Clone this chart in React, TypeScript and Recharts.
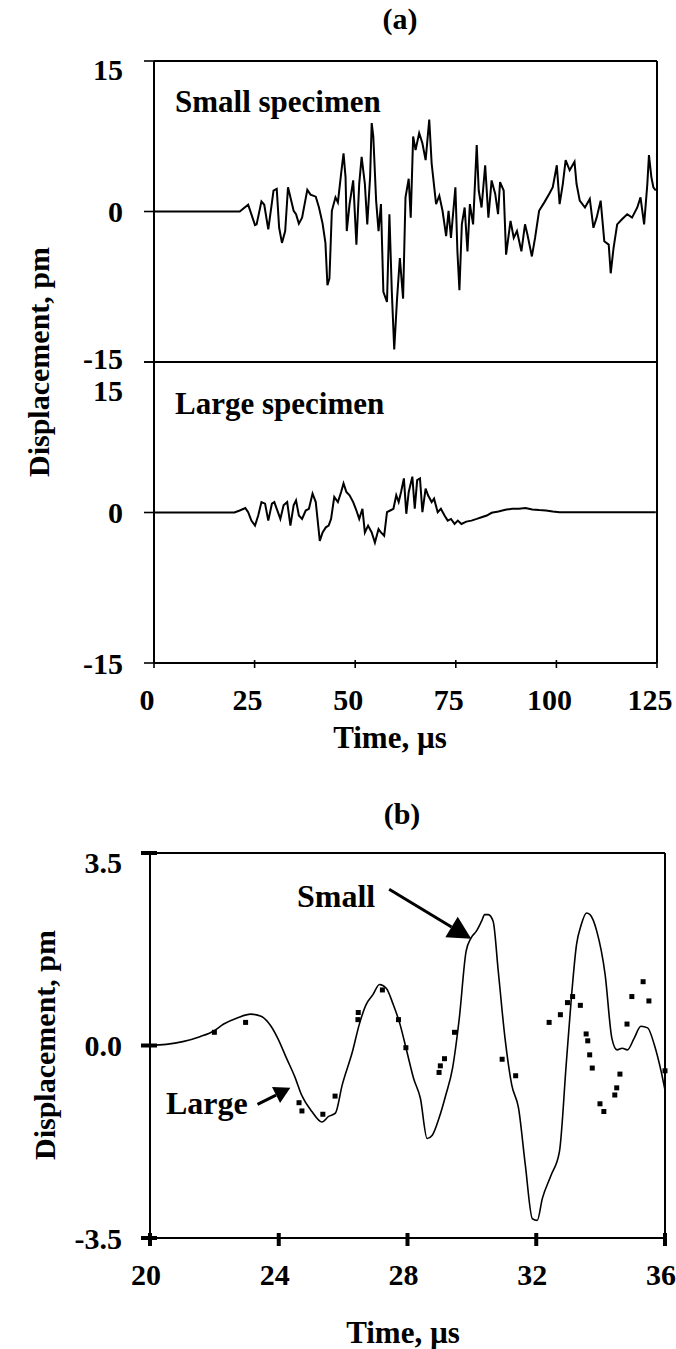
import React from "react"
import {
  LineChart,
  ComposedChart,
  Line,
  Scatter,
  XAxis,
  YAxis,
  ReferenceLine,
} from "recharts"

// ---- panel (a): full records, time in µs, displacement in pm ----
const smallTimeA = [
  0, 21.3, 23.4, 25.1, 25.5, 26.7, 27.4, 28.4, 28.8, 29.7, 30.5, 31.1, 31.8, 32.6, 33.3, 33.9,
  34.7, 35.3, 36.0, 36.8, 38.1, 38.9, 40.2, 41.0, 41.9, 42.6, 43.1, 43.6, 44.2, 45.1, 45.7, 46.5,
  47.1, 47.6, 47.9, 48.6, 49.5, 50.3, 51.0, 51.6, 52.4, 53.0, 53.7, 54.1, 54.5, 55.2, 55.8, 56.4,
  57.0, 57.9, 58.5, 59.1, 59.7, 60.4, 61.1, 61.9, 62.5, 63.3, 63.8, 64.4, 65.0, 65.9, 66.7, 67.5,
  68.4, 69.0, 70.1, 70.9, 71.7, 72.6, 73.2, 73.8, 74.9, 75.4, 75.9, 76.5, 77.2, 77.9, 78.5, 79.3,
  80.2, 80.7, 81.4, 82.3, 83.1, 83.9, 84.8, 85.5, 86.0, 86.9, 87.5, 88.6, 89.4, 90.2, 91.3, 92.2,
  92.8, 93.9, 94.7, 95.7, 97.0, 98.2, 99.1, 100.1, 100.8, 101.6, 102.3, 103.3, 104.5, 105.0, 105.8,
  107.1, 108.3, 109.2, 110.0, 111.0, 111.9, 113.0, 113.5, 114.2, 115.1, 116.3, 117.6, 118.8, 120.1,
  120.9, 121.8, 122.6, 123.0, 123.6, 124.1, 124.7,
]
const smallDispA = [
  0, 0, 0.67, -1.35, -1.28, 1.01, 0.67, -1.78, -0.61, 2.09, 2.26, -1.62, -3.13, -1.95, 2.42, 1.41,
  0.07, -0.27, -1.21, -0.61, 2.15, 1.68, 1.48, 0.4, -1.21, -3.13, -7.34, -6.67, 0.07, 1.41, 0.91, 3.77,
  5.79, 3.43, -1.95, 0.74, 3.1, -3.3, 2.76, 5.45, 2.76, -1.28, 3.43, 8.82, 7.47, 1.08, -1.95, 0.74,
  -8.01, -9.02, -0.27, -8.01, -13.74, -8.69, -4.65, -8.69, 1.41, 3.27, -0.61, 7.47, 6.13, 7.81, 6.8, 5.12,
  9.16, 4.78, 0.74, 1.58, 0.07, -2.46, 0.07, -2.63, 2.42, -3.97, -7.85, -1.28, 0.4, -3.97, 0.74, -1.28,
  6.63, 2.09, 0.4, 4.61, -0.61, 3.1, 1.75, -0.27, 2.93, 2.09, -4.31, -0.94, -2.63, -1.95, -3.97, -1.28,
  -2.29, -4.48, -2.63, 0.07, 0.91, 1.75, 2.42, 4.61, 0.74, 2.76, 5.12, 4.11, 4.95, 2.76, 1.08,
  0.4, 1.25, -1.62, -0.61, 1.08, -2.96, -3.3, -6.16, -3.64, -1.28, -0.77, -0.27, -0.61, 0.4,
  1.41, -1.28, 2.76, 5.62, 3.43, 2.42, 2.09,
]
const largeTimeA = [
  0, 20.0, 21.3, 22.7, 23.4, 24.2, 25.1, 25.9, 26.7, 27.6, 28.4, 29.3, 29.9, 30.8, 31.4, 32.2,
  33.1, 33.9, 34.7, 35.3, 36.0, 36.8, 37.7, 38.5, 39.4, 40.2, 40.9, 41.2, 41.9, 42.7, 43.4, 44.0,
  44.8, 45.7, 46.5, 47.1, 47.8, 48.6, 49.5, 50.3, 51.0, 51.8, 52.4, 53.2, 54.1, 54.9, 55.8, 56.4,
  57.2, 57.9, 58.7, 59.5, 60.2, 60.8, 61.4, 62.1, 62.7, 63.3, 64.2, 64.8, 65.4, 66.1, 66.7, 67.5,
  68.1, 69.0, 69.6, 70.5, 71.3, 72.2, 73.0, 73.8, 74.7, 75.5, 76.4, 77.6, 78.9, 80.2, 81.4, 82.7,
  83.9, 85.6, 87.3, 89.0, 90.7, 92.3, 94.0, 95.7, 97.4, 99.1, 100.8, 105.8, 114.2, 124.7,
]
const largeDispA = [
  0, 0, 0.2, 0.44, 0.03, -0.81, -1.31, -0.3, 1.04, 0.88, -0.81, 0.88, 1.04, 0.03, -0.64, 0.71,
  1.04, -1.31, 0.71, 1.21, -0.3, -0.64, 0.2, 0.37, 1.89, 1.04, -1.65, -2.83, -1.99, -1.48, -1.31, -0.64,
  1.55, 1.04, 2.05, 2.9, 2.05, 1.72, 1.04, 0.2, -0.64, 0.37, -1.99, -1.31, -1.99, -3.0, -1.65, -1.99,
  -2.32, 0.03, 0.2, 0.37, 1.72, 1.04, 2.05, 3.4, -0.13, 2.05, 3.57, 0.37, 3.23, 3.4, 0.03, 2.39,
  1.72, 1.04, 1.38, 0.03, 0.37, -0.3, -0.81, -0.64, -1.14, -0.81, -1.14, -0.91, -0.81, -0.64, -0.47, -0.3,
  -0.03, 0.1, 0.27, 0.37, 0.37, 0.44, 0.3, 0.24, 0.2, 0.1, 0.03, 0.03, 0.03, 0.03,
]
const timeTicksA = [0, 25, 50, 75, 100, 125]
const dispTicksA = [-15, 0, 15]

// ---- panel (b): first 16 µs, small = line, large = squares ----
const smallTimeB = [
  20.0, 20.5, 21.02, 21.55, 21.97, 22.29, 22.71, 23.13, 23.45, 23.76, 23.97, 24.24, 24.5, 24.71,
  25.03, 25.34, 25.55, 25.76, 25.97, 26.29, 26.5, 26.71, 26.92, 27.13, 27.34, 27.56, 27.77, 27.98,
  28.19, 28.4, 28.61, 28.77, 28.98, 29.19, 29.4, 29.61, 29.82, 29.98, 30.14, 30.3, 30.4, 30.51,
  30.66, 30.82, 31.03, 31.24, 31.45, 31.66, 31.88, 32.03, 32.19, 32.46, 32.72, 32.93, 33.09, 33.25,
  33.4, 33.56, 33.67, 33.88, 34.14, 34.35, 34.51, 34.67, 34.83, 35.04, 35.25, 35.46, 35.67, 35.88, 36.0,
]
const smallDispB = [
  0, 0.02, 0.07, 0.16, 0.26, 0.39, 0.5, 0.57, 0.53, 0.35, 0.13, -0.23, -0.57, -0.9,
  -1.2, -1.39, -1.29, -1.23, -0.72, -0.11, 0.38, 0.74, 0.92, 1.11, 1.04, 0.74, 0.38, -0.11,
  -0.6, -0.96, -1.69, -1.63, -1.32, -0.9, -0.41, 0.5, 1.71, 1.96, 2.08, 2.26, 2.38, 2.38,
  2.26, 1.35, 0.13, -0.72, -1.14, -2.17, -3.15, -3.18, -2.78, -2.36, -1.93, -0.35, 0.86, 1.83,
  2.2, 2.41, 2.38, 2.08, 1.29, 0.13, -0.08, -0.05, -0.08, 0.13, 0.35, 0.32, 0.01, -0.47, -0.81,
]
const largeTimeB = [
  22.0, 22.97, 24.63, 24.72, 25.37, 25.75, 26.47, 26.46, 27.22, 27.72, 27.95, 28.98, 29.02, 29.15,
  29.46, 30.94, 31.36, 32.4, 32.75, 32.97, 33.13, 33.37, 33.55, 33.6, 33.66, 33.74, 33.98, 34.1,
  34.44, 34.5, 34.6, 34.82, 34.97, 35.32, 35.5, 36.0,
]
const largeDispB = [
  0.24, 0.42, -1.04, -1.19, -1.25, -0.92, 0.6, 0.47, 1.01, 0.47, -0.04, -0.49, -0.37, -0.24,
  0.24, -0.25, -0.55, 0.42, 0.56, 0.78, 0.89, 0.73, 0.21, 0.085, -0.17, -0.41, -1.06, -1.2,
  -0.9, -0.77, -0.52, 0.39, 0.89, 1.16, 0.81, -0.46,
]
const timeTicksB = [20, 24, 28, 32, 36]
const dispTicksB = [-3.5, 0, 3.5]

const toRows = (ts: number[], vs: number[]) => ts.map((t, i) => ({ t, v: vs[i] }))

const FONT = "'Liberation Serif', 'Times New Roman', serif"
const INK = "#000"
const TICK_FONT = 30

// y ticks of panel (a): short mark to the left, label right-aligned
function yTickA(topShift: number, bottomShift: number) {
  return (p: any) => {
    const { x, y, payload } = p
    const dy = payload.value === 15 ? topShift : payload.value === -15 ? bottomShift : 0
    return (
      <g>
        <line x1={x - 10} y1={y} x2={x} y2={y} stroke={INK} strokeWidth={1.6} />
        <text x={x - 31} y={y + dy} textAnchor="end" dominantBaseline="central"
          fontFamily={FONT} fontWeight="bold" fontSize={TICK_FONT} fill={INK}>
          {payload.value}
        </text>
      </g>
    )
  }
}

function XTickA(p: any) {
  const { x, y, payload } = p
  return (
    <g>
      <line x1={x} y1={y - 3} x2={x} y2={y + 5} stroke={INK} strokeWidth={1.6} />
      <text x={x - 7} y={y + 36} textAnchor="middle" dominantBaseline="central"
        fontFamily={FONT} fontWeight="bold" fontSize={TICK_FONT} fill={INK}>
        {payload.value}
      </text>
    </g>
  )
}

function YTickB(p: any) {
  const { x, y, payload } = p
  const dy = payload.value === 3.5 ? 9 : 0
  return (
    <g>
      <line x1={x - 9} y1={y} x2={x + 7} y2={y} stroke={INK} strokeWidth={4} />
      <text x={x - 28} y={y + dy} textAnchor="end" dominantBaseline="central"
        fontFamily={FONT} fontWeight="bold" fontSize={TICK_FONT} fill={INK}>
        {payload.value.toFixed(1)}
      </text>
    </g>
  )
}

function XTickB(p: any) {
  const { x, y, payload } = p
  return (
    <g>
      <line x1={x} y1={y - 5} x2={x} y2={y + 8} stroke={INK} strokeWidth={4} />
      <text x={x - 4} y={y + 36} textAnchor="middle" dominantBaseline="central"
        fontFamily={FONT} fontWeight="bold" fontSize={TICK_FONT} fill={INK}>
        {payload.value}
      </text>
    </g>
  )
}

function arrow(head: number, width: number) {
  return (p: any) => {
    const { x1, y1, x2, y2 } = p
    const len = Math.hypot(x2 - x1, y2 - y1)
    const ux = (x2 - x1) / len
    const uy = (y2 - y1) / len
    const bx = x2 - ux * head
    const by = y2 - uy * head
    const nx = -uy * width / 2
    const ny = ux * width / 2
    return (
      <g>
        <line x1={x1} y1={y1} x2={bx} y2={by} stroke={INK} strokeWidth={3} />
        <polygon points={`${x2},${y2} ${bx + nx},${by + ny} ${bx - nx},${by - ny}`} fill={INK} />
      </g>
    )
  }
}

const square = (p: any) => (
  <rect x={p.cx - 2.5} y={p.cy - 2.5} width={5} height={5} fill={INK} />
)

const txt = { fontFamily: FONT, fontWeight: "bold" as const, fill: INK }

export default function App() {
  const smallA = toRows(smallTimeA, smallDispA)
  const largeA = toRows(largeTimeA, largeDispA)
  const smallB = toRows(smallTimeB, smallDispB)
  const largeB = toRows(largeTimeB, largeDispB)

  return (
    <div style={{ position: "absolute", left: 0, top: 0, width: 676, height: 1349, background: "#fff" }}>
      {/* (a) top: small specimen */}
      <div style={{ position: "absolute", left: 0, top: 0 }}>
        <LineChart width={676} height={400} data={smallA}
          margin={{ top: 61, right: 19, bottom: 38, left: 0 }}>
          <XAxis dataKey="t" type="number" domain={[0, 125]} ticks={timeTicksA} hide />
          <YAxis type="number" domain={[-15, 15]} ticks={dispTicksA} width={154} interval={0}
            axisLine={{ stroke: INK, strokeWidth: 2 }} tickLine={false} tickSize={0} tickMargin={0}
            tick={yTickA(8, -4)} />
          <ReferenceLine y={15} stroke={INK} strokeWidth={2} />
          <ReferenceLine y={-15} stroke={INK} strokeWidth={2} />
          <ReferenceLine x={125} stroke={INK} strokeWidth={2} />
          <Line dataKey="v" type="linear" stroke={INK} strokeWidth={2} dot={false} isAnimationActive={false} />
        </LineChart>
      </div>

      {/* (a) bottom: large specimen */}
      <div style={{ position: "absolute", left: 0, top: 330 }}>
        <LineChart width={676} height={432} data={largeA}
          margin={{ top: 32, right: 19, bottom: 0, left: 0 }}>
          <XAxis dataKey="t" type="number" domain={[0, 125]} ticks={timeTicksA} interval={0} height={99}
            axisLine={{ stroke: INK, strokeWidth: 2 }} tickLine={false} tickSize={0} tickMargin={0}
            tick={<XTickA />} />
          <YAxis type="number" domain={[-15, 15]} ticks={dispTicksA} width={154} interval={0}
            axisLine={{ stroke: INK, strokeWidth: 2 }} tickLine={false} tickSize={0} tickMargin={0}
            tick={yTickA(28, 0)} />
          <ReferenceLine x={125} stroke={INK} strokeWidth={2} />
          <Line dataKey="v" type="linear" stroke={INK} strokeWidth={2} dot={false} isAnimationActive={false} />
        </LineChart>
      </div>

      {/* (b) zoom on the first arrivals */}
      <div style={{ position: "absolute", left: 0, top: 780 }}>
        <ComposedChart width={676} height={569}
          margin={{ top: 73, right: 11, bottom: 0, left: 0 }}>
          <XAxis dataKey="t" type="number" domain={[20, 36]} ticks={timeTicksB} interval={0} height={111}
            axisLine={{ stroke: INK, strokeWidth: 2 }} tickLine={false} tickSize={0} tickMargin={0}
            tick={<XTickB />} />
          <YAxis type="number" domain={[-3.5, 3.5]} ticks={dispTicksB} width={150} interval={0}
            axisLine={{ stroke: INK, strokeWidth: 2 }} tickLine={false} tickSize={0} tickMargin={0}
            tick={<YTickB />} />
          <ReferenceLine y={3.5} stroke={INK} strokeWidth={2} />
          <ReferenceLine x={36} stroke={INK} strokeWidth={2} />
          <Line data={smallB} dataKey="v" type="monotone" stroke={INK} strokeWidth={1.6} dot={false}
            isAnimationActive={false} />
          <Scatter data={largeB} dataKey="v" shape={square} isAnimationActive={false} />
          <ReferenceLine segment={[{ x: 27.43, y: 2.84 }, { x: 29.98, y: 1.94 }]} shape={arrow(23, 24)} />
          <ReferenceLine segment={[{ x: 23.34, y: -1.07 }, { x: 24.36, y: -0.77 }]} shape={arrow(16, 18)} />
        </ComposedChart>
      </div>

      {/* titles and annotations */}
      <svg width={676} height={1349} style={{ position: "absolute", left: 0, top: 0, pointerEvents: "none" }}>
        <text x={400} y={18} textAnchor="middle" dominantBaseline="central" fontSize={30} {...txt}>(a)</text>
        <text x={175} y={112} fontSize={31} {...txt}>Small specimen</text>
        <text x={175} y={414} fontSize={31} {...txt}>Large specimen</text>
        <text x={38} y={362} transform="rotate(-90, 38, 362)" textAnchor="middle" dominantBaseline="central"
          fontSize={30} {...txt}>Displacement, pm</text>
        <text x={390} y={737} textAnchor="middle" dominantBaseline="central" fontSize={31} {...txt}>Time, µs</text>

        <text x={402} y={813} textAnchor="middle" dominantBaseline="central" fontSize={30} {...txt}>(b)</text>
        <text x={44} y={1045} transform="rotate(-90, 44, 1045)" textAnchor="middle" dominantBaseline="central"
          fontSize={30} {...txt}>Displacement, pm</text>
        <text x={403} y={1332} textAnchor="middle" dominantBaseline="central" fontSize={31} {...txt}>Time, µs</text>
        <text x={297} y={907} fontSize={32} {...txt}>Small</text>
        <text x={166} y={1114} fontSize={32} {...txt}>Large</text>
      </svg>
    </div>
  )
}
